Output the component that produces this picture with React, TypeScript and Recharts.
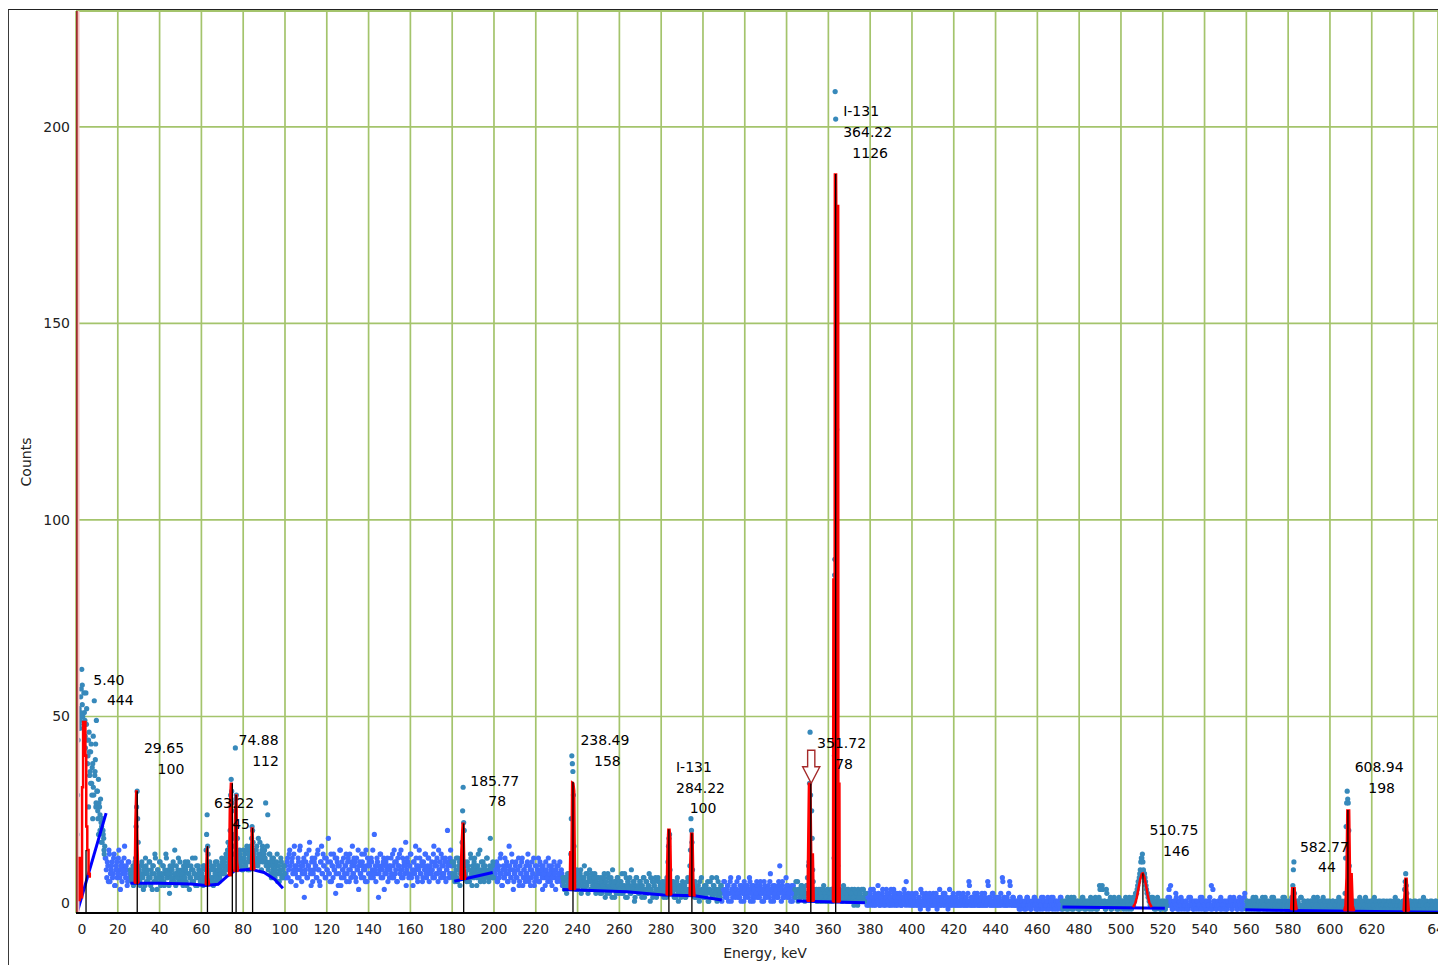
import { Area, CartesianGrid, ComposedChart, Line, ReferenceLine, Scatter, XAxis, YAxis } from "recharts"

// channel width of the spectrum, keV (two interleaved channel sets, offset by a quarter keV)
const STEP = 0.5

// counts per channel; "a" sets start at block + 0.25 keV, "b" sets at block + 0.5 keV
const counts0to50 = [
  12, 30, 50, 47, 55, 62, 50, 56, 49, 56, 44, 40, 46, 36, 43, 37, 45, 54, 39, 49, 31, 34, 27, 29, 22, 24, 19, 17,
  14, 9, 12, 16, 8, 11, 13, 10, 15, 7, 12, 9, 14, 11, 6, 13, 10, 12, 17, 9, 11, 8, 13, 10,
  10, 8, 12, 9, 13, 22, 31, 18, 11, 7, 9, 12, 6, 10, 14, 8, 11, 9, 13, 7, 10, 12, 8, 15, 9, 6, 11, 10, 13, 8,
  9, 12, 7, 10, 14, 9, 11, 5, 10, 8, 12, 9, 16, 7, 10, 11, 8, 13,
]
const counts0to50b = [
  20, 44, 52, 49, 57, 53, 47, 51, 42, 48, 38, 44, 35, 41, 33, 38, 30, 35, 27, 31, 24, 28, 21, 23, 18, 20, 15, 14,
  11, 13, 8, 15, 10, 12, 9, 14, 7, 11, 13, 10, 16, 9, 12, 8, 11, 14, 10, 12, 7, 13, 9, 11,
  9, 11, 7, 10, 14, 27, 24, 12, 8, 10, 13, 9, 11, 7, 12, 10, 8, 13, 9, 11, 6, 12, 10, 14, 8, 11, 9, 13, 7, 10,
  12, 8, 11, 15, 9, 10, 7, 12, 9, 11, 13, 8, 10, 12, 9, 14, 10, 8,
]
const counts50to100 = [
  9, 11, 7, 10, 13, 8, 12, 10, 6, 9, 11, 14, 8, 10, 7, 12, 9, 11, 10, 8,
  10, 7, 12, 9, 16, 25, 15, 11, 8, 12, 9, 7, 11, 13, 8, 10, 12, 9, 11, 14,
  10, 13, 11, 15, 12, 18, 14, 21, 34, 28, 17, 20, 42, 30, 19, 13, 16, 12, 14, 11,
  13, 15, 12, 17, 11, 14, 16, 13, 22, 18, 15, 12, 16, 14, 19, 13, 15, 11, 17, 14,
  16, 28, 13, 25, 12, 15, 10, 14, 11, 13, 9, 12, 15, 10, 8, 11, 13, 9, 12, 10,
]
const counts50to100b = [
  10, 8, 12, 9, 11, 7, 13, 10, 9, 12, 8, 11, 10, 14, 9, 7, 12, 10, 8, 11,
  9, 12, 8, 11, 20, 17, 10, 13, 9, 11, 8, 12, 10, 9, 13, 11, 8, 12, 10, 13,
  12, 10, 14, 11, 16, 13, 17, 30, 31, 19, 15, 26, 29, 22, 14, 12, 15, 13, 11, 16,
  14, 12, 16, 13, 15, 11, 17, 19, 21, 16, 14, 13, 17, 12, 15, 18, 14, 16, 13, 15,
  14, 12, 17, 11, 15, 13, 9, 12, 14, 10, 11, 13, 8, 12, 10, 14, 9, 11, 12, 9,
]
const counts100to150 = [
  12, 9, 14, 11, 16, 8, 13, 10, 15, 12, 7, 11, 14, 9, 17, 12, 10, 13, 4, 11,
  15, 9, 12, 18, 10, 13, 8, 11, 14, 12, 9, 16, 11, 7, 13, 10, 15, 12, 9, 14,
  11, 19, 10, 13, 8, 12, 15, 11, 5, 14, 12, 10, 16, 7, 13, 11, 9, 12, 15, 10,
  14, 8, 11, 13, 17, 10, 12, 9, 14, 11, 6, 13, 10, 15, 12, 9, 11, 16, 8, 12,
  13, 10, 14, 11, 9, 20, 12, 10, 13, 4, 11, 15, 12, 9, 14, 10, 13, 11, 8, 12,
]
const counts100to150b = [
  10, 13, 9, 15, 12, 8, 14, 11, 17, 10, 12, 9, 13, 16, 11, 8, 12, 14, 10, 13,
  9, 12, 16, 11, 7, 14, 10, 13, 12, 9, 15, 11, 8, 13, 17, 10, 12, 14, 9, 11,
  13, 10, 8, 15, 12, 9, 11, 14, 10, 13, 7, 12, 16, 9, 11, 14, 10, 12, 8, 13,
  11, 15, 9, 12, 10, 14, 13, 8, 11, 16, 12, 10, 9, 13, 11, 15, 8, 12, 14, 10,
  12, 9, 13, 16, 10, 11, 8, 14, 12, 10, 15, 9, 11, 13, 6, 12, 10, 14, 11, 9,
]
const counts150to200 = [
  11, 14, 9, 12, 16, 10, 13, 8, 12, 15, 11, 9, 14, 12, 10, 18, 11, 13, 9, 12,
  15, 10, 7, 13, 11, 14, 9, 12, 16, 10, 12, 8, 13, 11, 15, 9, 12, 14, 10, 11,
  13, 9, 17, 12, 10, 14, 8, 11, 13, 15, 10, 12, 9, 14, 11, 21, 13, 10, 16, 12,
  10, 13, 8, 11, 9, 14, 12, 7, 10, 18, 32, 21, 12, 9, 13, 11, 8, 15, 10, 12,
  9, 14, 11, 7, 12, 10, 16, 9, 11, 13, 8, 12, 10, 14, 9, 11, 19, 10, 12, 9,
]
const counts150to200b = [
  12, 10, 15, 9, 13, 11, 8, 14, 12, 10, 16, 11, 9, 13, 12, 7, 14, 10, 12, 15,
  9, 11, 13, 10, 17, 12, 8, 11, 14, 10, 13, 9, 12, 15, 10, 11, 14, 8, 12, 10,
  11, 15, 9, 13, 12, 10, 16, 11, 9, 12, 14, 10, 13, 8, 11, 12, 9, 14, 10, 13,
  9, 12, 10, 14, 8, 11, 13, 10, 12, 26, 23, 13, 10, 8, 12, 11, 9, 14, 7, 11,
  13, 10, 12, 9, 15, 11, 8, 13, 10, 12, 9, 11, 14, 10, 8, 12, 11, 9, 13, 10,
]
const counts200to250 = [
  11, 9, 13, 8, 12, 10, 15, 7, 11, 9, 14, 10, 12, 8, 17, 11, 9, 13, 6, 10,
  12, 9, 11, 14, 8, 10, 13, 7, 11, 9, 12, 10, 15, 8, 11, 9, 13, 10, 7, 12,
  9, 11, 14, 8, 10, 12, 6, 11, 9, 13, 10, 8, 12, 9, 11, 7, 10, 13, 9, 11,
  8, 12, 10, 9, 11, 7,
  8, 6, 9, 5, 10, 7, 8, 15, 40, 36, 17, 9, 6, 11, 8, 7, 10, 5, 9, 8, 12, 6, 7, 10, 8, 11, 6, 9, 7, 8, 10, 5, 9, 7,
]
const counts200to250b = [
  10, 12, 8, 11, 9, 14, 10, 7, 12, 9, 11, 13, 8, 10, 12, 9, 15, 11, 8, 10,
  13, 9, 11, 7, 12, 10, 14, 9, 11, 8, 10, 13, 9, 12, 7, 11, 10, 14, 8, 9,
  12, 10, 8, 13, 11, 9, 12, 10, 7, 11, 9, 14, 10, 8, 12, 9, 11, 10, 6, 12,
  9, 10, 13, 8, 10, 9,
  7, 9, 6, 8, 7, 10, 9, 24, 38, 30, 8, 7, 10, 6, 9, 8, 11, 7, 6, 9, 8, 10, 7, 5, 9, 8, 6, 10, 7, 9, 6, 8, 7, 9,
]
const counts250to300 = [
  7, 5, 9, 6, 8, 10, 4, 7, 6, 9, 5, 8, 7, 11, 6, 4, 8, 7, 9, 5,
  6, 8, 10, 5, 7, 6, 9, 4, 8, 7, 5, 11, 6, 8, 3, 7, 9, 6, 5, 8,
  7, 4, 6, 9, 5, 8, 6, 7, 10, 3, 6, 8, 5, 7, 9, 4, 6, 8, 5, 7,
  6, 8, 4, 7, 5, 9, 13, 19, 11, 6, 5, 8, 4, 7, 6, 9, 3, 7, 5, 6,
  8, 5, 7, 4, 6, 9, 5, 12, 24, 18, 7, 5, 8, 4, 6, 7, 3, 5, 9, 6,
]
const counts250to300b = [
  6, 8, 5, 7, 9, 6, 8, 5, 10, 7, 6, 9, 4, 7, 8, 6, 5, 9, 7, 6,
  8, 5, 7, 6, 10, 4, 7, 8, 6, 9, 5, 7, 6, 8, 4, 9, 6, 7, 5, 8,
  6, 7, 9, 4, 6, 8, 5, 7, 6, 9, 5, 4, 7, 8, 6, 5, 9, 6, 7, 5,
  7, 5, 6, 8, 4, 7, 17, 20, 6, 8, 5, 7, 6, 4, 8, 5, 6, 7, 4, 6,
  5, 7, 4, 6, 8, 5, 6, 16, 21, 11, 6, 4, 7, 5, 6, 4, 8, 5, 6, 4,
]
const counts300to350 = [
  5, 7, 4, 6, 8, 3, 6, 5, 9, 4, 7, 5, 6, 3, 8, 5, 4, 7, 6, 5,
  8, 4, 6, 7, 3, 5, 9, 6, 4, 7, 5, 6, 8, 4, 5, 7, 3, 6, 5, 8,
  4, 6, 7, 5, 9, 3, 6, 4, 7, 5, 6, 8, 4, 5, 7, 6, 3, 5, 8, 4,
  6, 5, 7, 4, 10, 6, 5, 3, 7, 5, 6, 4, 8, 12, 6, 7, 4, 5, 6, 9,
  5, 7, 4, 6, 5, 3, 7, 6, 4, 5, 8, 6, 5, 4, 7, 5, 6, 3, 5, 7,
]
const counts300to350b = [
  6, 4, 7, 5, 3, 6, 8, 5, 4, 7, 6, 5, 9, 4, 6, 5, 7, 3, 6, 8,
  5, 6, 4, 7, 5, 8, 3, 6, 5, 7, 4, 6, 5, 9, 4, 6, 7, 5, 3, 6,
  7, 5, 4, 6, 8, 5, 7, 3, 6, 4, 5, 7, 6, 4, 8, 5, 6, 3, 7, 5,
  4, 6, 5, 8, 3, 6, 7, 4, 5, 6, 4, 7, 5, 6, 3, 8, 5, 4, 6, 7,
  4, 5, 6, 3, 7, 5, 4, 6, 8, 5, 3, 6, 4, 7, 5, 6, 4, 5, 7, 9,
]
const counts350to400 = [
  7, 13, 46, 38, 19, 8, 5, 4, 6, 3,
  5, 4, 6, 3, 5, 7, 4, 5, 3, 6,
  4, 5, 3, 6, 5, 14, 209, 33, 20, 8,
  6, 4, 5, 3, 7, 4, 5, 6, 3, 4,
  5, 3, 6, 4, 2, 5, 4, 3, 6, 4, 5, 3, 4, 6, 3, 5,
  3, 5, 2, 4, 6, 3, 4, 2, 5, 3, 4, 7, 3, 2, 4, 5, 3, 4, 2, 6,
  3, 4, 5, 2, 3, 4, 6, 3, 2, 5, 4, 3, 5, 2, 4, 3, 6, 4, 8, 3,
  5, 4, 3, 2,
]
const counts350to400b = [
  12, 33, 30, 26, 11, 6, 4, 5, 3, 4,
  6, 3, 5, 4, 6, 3, 5, 4, 6, 3,
  5, 4, 6, 3, 5, 86, 202, 123, 12, 6,
  4, 5, 3, 6, 4, 5, 3, 4, 6, 3,
  4, 5, 3, 4, 6, 3, 5, 2, 4, 5, 3, 6, 4, 3, 5, 4,
  2, 4, 3, 5, 2, 4, 6, 3, 2, 4, 3, 5, 2, 4, 3, 6, 2, 3, 4, 5,
  3, 2, 4, 6, 3, 2, 5, 4, 3, 2, 4, 5, 3, 2, 4, 3, 5, 2, 4, 3,
  2, 4, 3, 5,
]
const counts400to450 = [
  3, 4, 2, 5, 3, 2, 4, 3, 6, 2, 3, 4, 2, 5, 3, 1, 4, 3, 2, 4,
  5, 2, 3, 4, 2, 3, 6, 2, 4, 3, 2, 5, 3, 4, 1, 3, 2, 4, 3, 5,
  2, 3, 4, 2, 3, 5, 2, 4, 3, 2, 4, 3, 2, 5, 8, 3, 2, 4, 3, 2,
  4, 3, 5, 2, 3, 2, 4, 3, 2, 5, 3, 2, 8, 3, 4, 2, 3, 5, 2, 3,
  4, 2, 3, 4, 2, 3, 9, 2, 4, 3, 2, 3, 5, 8, 2, 3, 4, 2, 3, 2,
]
const counts400to450b = [
  2, 4, 3, 5, 2, 3, 4, 1, 3, 5, 2, 4, 3, 2, 4, 3, 5, 2, 3, 4,
  2, 3, 5, 1, 4, 3, 2, 4, 3, 5, 2, 3, 4, 2, 3, 6, 2, 4, 3, 2,
  4, 3, 2, 5, 3, 2, 4, 3, 5, 2, 3, 4, 2, 3, 7, 2, 4, 3, 2, 5,
  3, 2, 4, 3, 2, 4, 5, 2, 3, 4, 2, 3, 7, 4, 2, 3, 5, 2, 4, 3,
  2, 4, 3, 2, 5, 3, 8, 4, 2, 3, 4, 2, 3, 7, 3, 2, 4, 3, 2, 3,
]
const counts450to500 = [
  2, 3, 1, 4, 2, 3, 2, 1, 3, 2, 4, 2, 3, 1, 2, 3, 2, 4, 1, 2,
  3, 2, 1, 3, 2, 4, 2, 3, 1, 2, 3, 2, 2, 4, 1, 3, 2, 3, 2, 1,
  3, 2, 4, 2, 1, 3, 2, 2, 3, 1, 2, 3, 4, 2, 1, 3, 2, 2, 3, 2,
  1, 3, 2, 4, 2, 3, 1, 2, 3, 2, 2, 3, 1, 2, 3, 4, 2, 1, 3, 7,
  2, 3, 6, 2, 3, 1, 5, 2, 3, 2, 1, 3, 2, 4, 2, 3, 2, 1, 3, 2,
]
const counts450to500b = [
  3, 2, 4, 1, 3, 2, 2, 3, 1, 4, 2, 3, 2, 1, 3, 2, 4, 2, 3, 1,
  2, 3, 2, 4, 1, 3, 2, 2, 3, 4, 1, 2, 3, 2, 4, 2, 1, 3, 2, 3,
  2, 4, 1, 3, 2, 2, 3, 1, 4, 2, 3, 2, 1, 3, 4, 2, 2, 3, 1, 2,
  3, 2, 4, 2, 1, 3, 2, 3, 2, 1, 4, 2, 3, 2, 2, 1, 3, 2, 4, 6,
  3, 7, 2, 3, 1, 6, 2, 3, 2, 4, 1, 2, 3, 2, 3, 1, 2, 4, 2, 3,
]
const counts500to550 = [
  2, 3, 1, 2, 4, 2, 3, 1, 2, 3, 2, 4, 3, 4, 5, 6, 8, 9, 11, 14,
  15, 11, 10, 8, 6, 5, 4, 3, 3, 2, 4, 2, 3, 1, 2, 3, 2, 1, 3, 2,
  2, 3, 1, 2, 3, 2, 4, 7, 2, 1, 3, 2, 5, 2, 3, 1, 2, 4, 2, 3,
  1, 2, 3, 2, 1, 2, 4, 2, 3, 1, 2, 3, 2, 2, 1, 3, 2, 4, 2, 1,
  3, 2, 1, 2, 3, 2, 7, 1, 2, 3, 2, 1, 2, 3, 2, 4, 1, 2, 3, 2,
]
const counts500to550b = [
  3, 2, 2, 3, 1, 3, 2, 4, 2, 1, 3, 2, 3, 5, 5, 7, 8, 10, 13, 14,
  13, 10, 9, 7, 5, 4, 3, 2, 4, 3, 2, 1, 3, 2, 4, 2, 3, 1, 2, 3,
  2, 1, 3, 2, 4, 6, 2, 3, 1, 2, 3, 2, 4, 1, 2, 3, 2, 1, 3, 2,
  2, 3, 1, 2, 4, 2, 3, 2, 1, 3, 2, 1, 3, 2, 2, 4, 1, 3, 2, 2,
  1, 3, 2, 2, 4, 1, 2, 6, 3, 2, 1, 2, 3, 2, 1, 3, 2, 2, 1, 3,
]
const counts550to600 = [
  2, 1, 3, 2, 4, 2, 1, 3, 2, 2, 3, 1, 2, 4, 2, 3, 1, 2, 5, 2,
  3, 2, 1, 2, 3, 2, 4, 1, 2, 3, 2, 1, 3, 2, 2, 4, 1, 2, 3, 2,
  1, 3, 2, 2, 4, 1, 2, 3, 2, 1, 3, 2, 2, 1, 3, 2, 4, 2, 1, 3,
  2, 2, 3, 4, 7, 13, 3, 2, 1, 3, 2, 2, 4, 1, 2, 3, 2, 1, 3, 2,
  2, 3, 1, 2, 4, 2, 1, 3, 2, 2, 1, 3, 2, 4, 2, 1, 3, 2, 2, 3,
]
const counts550to600b = [
  1, 3, 2, 2, 3, 1, 2, 4, 2, 3, 1, 2, 3, 2, 1, 3, 2, 4, 2, 1,
  3, 2, 2, 3, 1, 2, 3, 2, 4, 1, 2, 3, 1, 2, 3, 2, 2, 4, 1, 3,
  2, 2, 1, 3, 2, 4, 2, 1, 3, 2, 2, 3, 1, 2, 4, 2, 3, 1, 2, 2,
  3, 1, 2, 3, 11, 5, 2, 1, 3, 2, 2, 4, 1, 2, 3, 2, 1, 2, 3, 2,
  1, 3, 2, 2, 1, 3, 2, 4, 1, 2, 3, 2, 2, 1, 3, 2, 1, 3, 2, 2,
]
const counts600to652 = [
  2, 1, 3, 2, 2, 1, 3, 2, 4, 1, 2, 3, 2, 1, 5, 22, 31, 28, 12, 4,
  2, 3, 1, 2, 2, 3, 1, 2, 4, 2, 1, 3, 2, 2, 1, 3, 2, 1, 2, 3,
  2, 1, 4, 2, 1, 2, 3, 1, 2, 2, 3, 1, 2, 1, 3, 2, 2, 1, 3, 2,
  1, 2, 4, 2, 1, 3, 2, 1, 2, 2, 3, 6, 10, 5, 2, 1, 3, 2, 1, 2,
  3, 1, 2, 2, 1, 3, 2, 1, 2, 4, 1, 2, 3, 1, 2, 2, 1, 3, 2, 1,
  2, 3, 1, 2,
]
const counts600to652b = [
  1, 2, 3, 1, 2, 2, 3, 1, 2, 3, 1, 2, 2, 3, 14, 28, 29, 21, 8, 3,
  1, 2, 3, 2, 1, 2, 3, 1, 2, 2, 3, 1, 2, 4, 1, 2, 3, 2, 1, 3,
  2, 2, 1, 3, 2, 1, 2, 3, 2, 1, 2, 3, 1, 2, 2, 1, 3, 2, 1, 2,
  3, 2, 1, 2, 3, 1, 2, 2, 1, 3, 2, 8, 7, 2, 1, 2, 3, 1, 2, 2,
  1, 3, 2, 1, 2, 2, 3, 1, 2, 1, 3, 2, 2, 1, 2, 3, 1, 2, 2, 1,
  3, 2, 1, 2,
]

const blockStarts = [0, 50, 100, 150, 200, 250, 300, 350, 400, 450, 500, 550, 600]
const blocksA = [
  counts0to50, counts50to100, counts100to150, counts150to200, counts200to250, counts250to300, counts300to350,
  counts350to400, counts400to450, counts450to500, counts500to550, counts550to600, counts600to652,
]
const blocksB = [
  counts0to50b, counts50to100b, counts100to150b, counts150to200b, counts200to250b, counts250to300b, counts300to350b,
  counts350to400b, counts400to450b, counts450to500b, counts500to550b, counts550to600b, counts600to652b,
]

// extra points piled up on the steep peak flanks [keV, counts]
const extraPeakPoints = [
  [1.6, 48], [2.3, 51], [3.0, 58], [4.4, 45], [5.1, 52], [6.0, 27], [6.4, 41], [7.0, 33], [7.6, 30], [8.0, 24],
  [8.3, 32], [9.1, 36], [9.4, 43], [9.6, 28], [10.4, 26], [10.8, 20], [11.5, 25], [12.1, 18], [12.9, 21], [13.4, 16],
  [362.9, 40], [363.1, 90],
]

// regions of interest (points drawn in teal) [from, to] keV
const roiRanges = [[0, 14], [26, 100], [180, 200], [233, 309], [344, 378], [472, 522], [560, 660]]

// fitted peak shapes [keV, counts]; first point is the continuum under the peak
const peakFits = [
  [[27.9, 7.6], [28.2, 23], [28.6, 31], [29.2, 31], [29.6, 18], [30.1, 7.6]],
  [[61.9, 7.2], [62.4, 16], [63.0, 17], [63.4, 9], [63.9, 7.2]],
  [[73.0, 9.5], [73.4, 27], [73.9, 33], [74.7, 33], [75.1, 10.5]],
  [[75.7, 10.6], [76.0, 26], [76.4, 30], [77.0, 30], [77.3, 13], [77.8, 10.9]],
  [[83.5, 11], [83.9, 21.6], [84.6, 21.6], [85.0, 16], [85.5, 11]],
  [[183.8, 8.6], [184.2, 16], [184.8, 22.8], [185.6, 22.8], [186.0, 12], [186.6, 8.9]],
  [[236.0, 6], [236.3, 15.6], [236.9, 15.6], [237.2, 33.4], [238.2, 33], [238.6, 31], [239.0, 6]],
  [[282.4, 4.6], [282.8, 16], [283.2, 21.3], [284.2, 21.3], [284.6, 19], [285.0, 4.6]],
  [[293.4, 4.4], [293.7, 12], [294.1, 20.3], [295.2, 20.3], [295.6, 8], [296.2, 4.2]],
  [[349.8, 3], [350.1, 16], [350.5, 33], [351.6, 33], [352.0, 15], [352.8, 15], [353.2, 3]],
  [[362.0, 2.8], [362.2, 85], [362.8, 85], [362.9, 188], [363.9, 188], [364.0, 180], [364.9, 180], [365.0, 33], [365.5, 33], [365.6, 2.8]],
  [[581.2, 0.9], [581.7, 6.4], [583.3, 6.4], [583.7, 3], [584.3, 0.9]],
  [[606.6, 0.6], [607.2, 2], [607.7, 9], [608.1, 26.2], [609.4, 26.2], [609.8, 10], [610.6, 10], [611.1, 2], [611.8, 0.5]],
  [[635.0, 0.5], [635.5, 5], [635.9, 8.8], [636.9, 8.8], [637.4, 4], [638.0, 0.5]],
]
// the X-ray peak and the broad annihilation peak are drawn as outlines only
const outlineFits = [
  [[1.8, 3], [1.8, 14], [2.4, 14], [2.4, 4], [2.9, 4], [2.9, 32], [3.4, 32], [3.4, 48.6], [4.5, 48.6], [4.5, 40], [4.9, 40],
    [4.9, 22], [5.4, 22], [5.4, 16], [6.0, 16], [6.0, 10], [6.6, 10], [6.6, 9]],
  [[505.8, 1.5], [506.8, 2.4], [507.6, 4], [508.4, 6.3], [509.2, 8.6], [510.0, 10], [510.5, 10.1], [511.2, 9.2],
    [512.0, 7], [512.8, 4.6], [513.6, 2.6], [514.7, 1.5]],
]

// continuum under each region of interest [keV, counts]
const baselines = [
  [[0.5, 0], [14.4, 25.4]],
  [[26, 7.6], [40, 7.6], [55, 7.4], [62, 7.0], [68, 7.3], [72, 9.2], [76, 10.8], [84, 11.1], [90, 10.3], [95, 8.6], [99, 6.3]],
  [[181, 8.1], [199.4, 10.3]],
  [[232.8, 6.0], [263.5, 5.4], [281, 4.6], [296, 4.4], [309, 3.3]],
  [[344.8, 3.05], [377.5, 2.6]],
  [[472, 1.5], [521, 1.2]],
  [[559.5, 0.8], [651.7, 0.2]],
]

// peak centroid markers [keV, height]
const centroids = [
  [4.8, 16], [29.3, 31], [62.9, 17], [74.8, 33], [76.6, 30], [84.5, 21.6], [185.5, 22.8], [237.8, 33.4],
  [283.7, 21.3], [294.7, 20.3], [351.6, 33], [363.5, 188], [510.5, 10.1], [582.6, 6.4], [608.6, 26.2], [636.3, 8.8],
]

// channel 0 is far off scale
const offScaleChannel = { energy: 0.25, counts: 1000 }

// identified peaks: energy, area, nuclide, and the count level the label sits at
const peakLabels = [
  { energy: "5.40", area: "444", nuclide: "", level: 59.4 },
  { energy: "29.65", area: "100", nuclide: "", level: 41.9 },
  { energy: "63.22", area: "45", nuclide: "", level: 27.9 },
  { energy: "74.88", area: "112", nuclide: "", level: 44.0 },
  { energy: "185.77", area: "78", nuclide: "", level: 33.7 },
  { energy: "238.49", area: "158", nuclide: "", level: 44.0 },
  { energy: "284.22", area: "100", nuclide: "I-131", level: 37.2 },
  { energy: "351.72", area: "78", nuclide: "", level: 43.2 },
  { energy: "364.22", area: "1126", nuclide: "I-131", level: 204.0 },
  { energy: "510.75", area: "146", nuclide: "", level: 21.1 },
  { energy: "582.77", area: "44", nuclide: "", level: 16.9 },
  { energy: "608.94", area: "198", nuclide: "", level: 37.2 },
]

// search marker (arrow) at the selected peak
const selectedPeak = [{ x: 351.8, y: 33 }]

const xTicks = [
  0, 20, 40, 60, 80, 100, 120, 140, 160, 180, 200, 220, 240, 260, 280, 300, 320, 340, 360, 380, 400, 420, 440,
  460, 480, 500, 520, 540, 560, 580, 600, 620, 640,
]
const yTicks = [0, 50, 100, 150, 200]

const X_MAX = 651.7
const Y_MAX = 229.5
const FONT = "DejaVu Sans"

type Pt = { x: number; y: number }
const toXY = (pts: number[][]): Pt[] => pts.map(([x, y]) => ({ x, y }))

const channelsOf = (blocks: number[][], offset: number): Pt[] =>
  blocks.flatMap((arr, b) => arr.map((c, i) => ({ x: blockStarts[b] + offset + i * STEP, y: c })))
const allPoints = [...channelsOf(blocksA, 0.25), ...channelsOf(blocksB, 0.5), ...toXY(extraPeakPoints)]
const inRoi = (e: number) => roiRanges.some(([a, b]) => e >= a && e < b)
const roiPoints = allPoints.filter((p) => inRoi(p.x))
const bgPoints = allPoints.filter((p) => !inRoi(p.x))

const toRange = (fit: number[][]) => fit.map(([x, y]) => ({ x, band: [fit[0][1], y] }))

const labelData = peakLabels.map((l) => ({ x: parseFloat(l.energy), y: l.level, ...l }))

const dot = (color: string) => (p: any) => <circle cx={p.cx} cy={p.cy} r={2.6} fill={color} />

const PeakLabel = (p: any) => {
  const { cx, cy, payload } = p
  const x0 = cx + 6
  const lh = 20.8
  const lines = payload.nuclide ? [payload.nuclide, payload.energy] : [payload.energy]
  return (
    <g fontFamily={FONT} fontSize={14} fill="#000">
      {lines.map((t: string, i: number) => (
        <text key={i} x={x0} y={cy + i * lh} dy="0.36em" textAnchor="start">
          {t}
        </text>
      ))}
      <text x={x0 + 27} y={cy + lines.length * lh} dy="0.36em" textAnchor="middle">
        {payload.area}
      </text>
    </g>
  )
}

const ArrowMarker = (p: any) => {
  const { cx, cy } = p
  const d = `M${cx - 3.6},${cy - 33} H${cx + 3.6} V${cy - 16.5} H${cx + 8.6} L${cx},${cy} L${cx - 8.6},${cy - 16.5} H${cx - 3.6} Z`
  return <path d={d} fill="#fff" stroke="#a52a2a" strokeWidth={1.4} />
}

const XTick = (p: any) => {
  const v = p.payload.value
  const dx = v === 0 ? 6 : v === 640 ? 27 : 0
  return (
    <text x={p.x + dx} y={p.y} dy="0.71em" textAnchor="middle" fontSize={14} fontFamily={FONT} fill="#222">
      {v}
    </text>
  )
}

const YTick = (p: any) => {
  const v = p.payload.value
  return (
    <text x={p.x} y={v === 0 ? p.y - 10 : p.y} dy="0.355em" textAnchor="end" fontSize={14} fontFamily={FONT} fill="#222">
      {v}
    </text>
  )
}

export default function App() {
  return (
    <div style={{ position: "absolute", left: 0, top: 0, width: 1438, height: 965, overflow: "hidden", background: "#fff" }}>
      <div
        style={{
          position: "absolute",
          left: 8,
          top: 9,
          width: 1440,
          height: 960,
          borderLeft: "1.5px solid #3a3a3a",
          borderTop: "1.5px solid #222",
        }}
      />
      <div style={{ position: "absolute", left: 0, top: 0 }}>
        <ComposedChart width={1438} height={965} margin={{ top: 11, right: 0, bottom: 0, left: 0 }}>
          <CartesianGrid stroke="#a4c46c" strokeWidth={1.7} />
          <XAxis
            type="number"
            dataKey="x"
            domain={[0, X_MAX]}
            ticks={xTicks}
            interval={0}
            allowDataOverflow
            height={52}
            tickLine={false}
            tickSize={8}
            tickMargin={3}
            axisLine={{ stroke: "#000", strokeWidth: 2 }}
            tick={(p: any) => <XTick {...p} />}
            zIndex={700}
            label={{
              content: (p: any) => {
                const vb = p.viewBox
                return (
                  <text x={vb.x + vb.width / 2 + 8} y={vb.y + vb.height - 7} textAnchor="middle" fontSize={14} fontFamily={FONT} fill="#222">
                    Energy, keV
                  </text>
                )
              },
            }}
          />
          <YAxis
            type="number"
            dataKey="y"
            domain={[0, Y_MAX]}
            ticks={yTicks}
            allowDataOverflow
            width={76}
            tickLine={false}
            tickSize={4}
            tickMargin={2}
            axisLine={false}
            tick={(p: any) => <YTick {...p} />}
            label={{
              content: (p: any) => {
                const vb = p.viewBox
                const cx = vb.x + 31
                const cy = vb.y + vb.height / 2
                return (
                  <text x={cx} y={cy} transform={`rotate(-90 ${cx} ${cy})`} textAnchor="middle" fontSize={14} fontFamily={FONT} fill="#222">
                    Counts
                  </text>
                )
              },
            }}
          />
          <ReferenceLine y={Y_MAX} stroke="#a4c46c" strokeWidth={2} />
          <Scatter data={bgPoints} shape={dot("#3f6dff")} isAnimationActive={false} zIndex={600} />
          <Scatter data={roiPoints} shape={dot("#3789bb")} isAnimationActive={false} zIndex={600} />
          {baselines.map((b, i) => (
            <Line
              key={"b" + i}
              data={toXY(b)}
              dataKey="y"
              type="linear"
              stroke="#0000ff"
              strokeWidth={3}
              dot={false}
              isAnimationActive={false}
              zIndex={650}
            />
          ))}
          <Line
            data={[{ x: offScaleChannel.energy, y: 0 }, { x: offScaleChannel.energy, y: offScaleChannel.counts }]}
            dataKey="y"
            stroke="#f3c2c2"
            strokeWidth={6}
            dot={false}
            isAnimationActive={false}
            zIndex={660}
          />
          <Line
            data={[{ x: offScaleChannel.energy, y: 0 }, { x: offScaleChannel.energy, y: offScaleChannel.counts }]}
            dataKey="y"
            stroke="#9c2b2b"
            strokeWidth={2.4}
            dot={false}
            isAnimationActive={false}
            zIndex={661}
          />
          {peakFits.map((f, i) => (
            <Area
              key={"f" + i}
              data={toRange(f)}
              dataKey="band"
              type="linear"
              stroke="#ff0000"
              strokeWidth={1.6}
              fill="#ff0000"
              fillOpacity={1}
              dot={false}
              activeDot={false}
              isAnimationActive={false}
              zIndex={670}
            />
          ))}
          {outlineFits.map((f, i) => (
            <Line
              key={"o" + i}
              data={toXY(f)}
              dataKey="y"
              type="linear"
              stroke="#ff0000"
              strokeWidth={2.5}
              dot={false}
              isAnimationActive={false}
              zIndex={670}
            />
          ))}
          {centroids.map(([e, h], i) => (
            <Line
              key={"c" + i}
              data={[{ x: e, y: 0 }, { x: e, y: h }]}
              dataKey="y"
              stroke="#000"
              strokeWidth={1.3}
              dot={false}
              isAnimationActive={false}
              zIndex={680}
            />
          ))}
          <Scatter data={selectedPeak} shape={(p: any) => <ArrowMarker {...p} />} isAnimationActive={false} zIndex={690} />
          <Scatter data={labelData} shape={(p: any) => <PeakLabel {...p} />} isAnimationActive={false} zIndex={695} />
        </ComposedChart>
      </div>
    </div>
  )
}
